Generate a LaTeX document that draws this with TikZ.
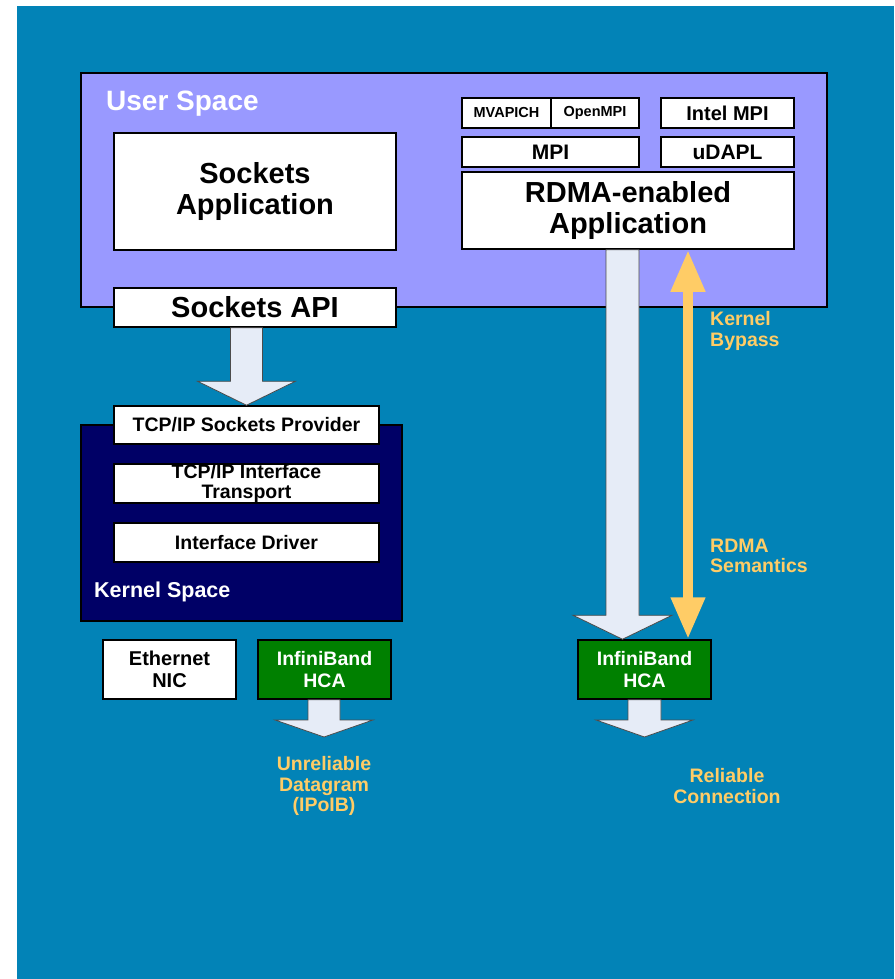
\documentclass[tikz,border=0pt]{standalone}
\usepackage{fontspec}
\setmainfont{Liberation Sans}
\usetikzlibrary{arrows.meta,calc}
\definecolor{bgblue}{HTML}{0283B7}
\definecolor{userlav}{HTML}{9999FF}
\definecolor{kernnavy}{HTML}{000066}
\definecolor{hcagreen}{HTML}{008000}
\definecolor{labelorange}{HTML}{FFCC66}
\definecolor{arrowfill}{HTML}{E6ECF7}
\newcommand\fs[2]{\fontsize{#1}{#2}\selectfont\bfseries}
\newcommand\blockarrow[5]{%
  \draw[blkarrow] let \p1=(#1), \p2=(#2) in
    (\x2-#3,\y1) -- (\x2+#3,\y1) -- (\x2+#3,\y2+#5) -- (\x2+#4,\y2+#5) -- (\x2,\y2)
    -- (\x2-#4,\y2+#5) -- (\x2-#3,\y2+#5) -- cycle;}
\begin{document}
\begin{tikzpicture}[x=1pt,y=-1pt,
  wbox/.style={draw=black, line width=1.5pt, fill=white, inner sep=0pt, align=center, text=black},
  gbox/.style={draw=black, line width=1.5pt, fill=hcagreen, inner sep=0pt, align=center, text=white},
  blkarrow/.style={draw=black!70, line width=0.8pt, fill=arrowfill},
  olabel/.style={text=labelorange, inner sep=0pt, font=\fs{19.5}{20.5}}
]
\useasboundingbox (0,0) rectangle (894,979);
\fill[white] (0,0) rectangle (894,979);
\fill[bgblue] (17,6) rectangle (894,979);

% User space
\node[draw=black, line width=2pt, fill=userlav, minimum width=746pt, minimum height=234pt, inner sep=0pt] (user) at (454,190) {};
\node[anchor=west, inner sep=0pt, text=white, font=\fs{28}{32}] (userlbl) at (106,104) {User Space};
\node[wbox, minimum width=282pt, minimum height=117pt, font=\fs{29}{31}] (sapp) at (255,191.5) {Sockets\\Application};
\node[wbox, minimum width=282pt, minimum height=39pt, font=\fs{29}{31}] (api) at (255,307.5) {Sockets API};
\node[wbox, minimum width=89pt, minimum height=30pt, font=\fs{14.5}{16}] (mva) at (506.5,113) {MVAPICH};
\node[wbox, minimum width=88pt, minimum height=30pt, font=\fs{14.5}{16}] (ompi) at (595,113) {OpenMPI};
\node[wbox, minimum width=133pt, minimum height=30pt, font=\fs{20}{22}] (intel) at (727.5,113) {Intel MPI};
\node[wbox, minimum width=177pt, minimum height=30pt, font=\fs{21}{22}] (mpi) at (550.5,152) {MPI};
\node[wbox, minimum width=133pt, minimum height=30pt, font=\fs{21}{22}] (udapl) at (727.5,152) {uDAPL};
\node[wbox, minimum width=332pt, minimum height=77pt, font=\fs{29}{31.5}] (rdma) at (628,210.5) {RDMA-enabled\\Application};

% Kernel space
\node[draw=black, line width=1.5pt, fill=kernnavy, minimum width=321pt, minimum height=196pt, inner sep=0pt] (kernel) at (241.5,523) {};
\node[anchor=west, inner sep=0pt, text=white, font=\fs{21.5}{24}] (kernlbl) at (94,591.5) {Kernel Space};
\node[wbox, minimum width=265pt, minimum height=38pt, font=\fs{19.5}{21}] (tcp) at (246.5,425) {TCP/IP Sockets Provider};
\node[wbox, minimum width=265pt, minimum height=39pt, font=\fs{19.5}{20}] (tcpi) at (246.5,483.5) {TCP/IP Interface\\Transport};
\node[wbox, minimum width=265pt, minimum height=39pt, font=\fs{19.5}{21}] (drv) at (246.5,542.5) {Interface Driver};

% Hardware
\node[wbox, minimum width=133pt, minimum height=59pt, font=\fs{20}{21.5}] (eth) at (169.5,669.5) {Ethernet\\NIC};
\node[gbox, minimum width=133pt, minimum height=59pt, font=\fs{19.5}{21.5}] (hcaL) at (324.5,669.5) {InfiniBand\\HCA};
\node[gbox, minimum width=133pt, minimum height=59pt, font=\fs{19.5}{21.5}] (hcaR) at (644.5,669.5) {InfiniBand\\HCA};

% block arrows
\blockarrow{api.south}{tcp.north}{16pt}{49pt}{24pt}
\coordinate (bigtop) at (622.5,0 |- rdma.south);
\coordinate (bigtip) at (622.5,0 |- hcaR.north);
\blockarrow{bigtop}{bigtip}{16.5pt}{49.5pt}{24pt}
\coordinate (ltip) at (324,737);
\blockarrow{hcaL.south}{ltip}{16pt}{49pt}{17pt}
\coordinate (rtip) at (644.5,737);
\blockarrow{hcaR.south}{rtip}{16.5pt}{48.5pt}{17pt}

% orange double arrow
\coordinate (otop) at (688,0 |- rdma.south);
\coordinate (obot) at (688,0 |- hcaR.north);
\draw[labelorange, line width=10pt, {Triangle[width=32pt,length=42pt]}-{Triangle[width=32pt,length=42pt]}] (otop) -- (obot);

% labels
\node[olabel, anchor=west, align=left] (kb) at (710,331) {Kernel\\Bypass};
\node[olabel, anchor=west, align=left] (rs) at (710,556) {RDMA\\Semantics};
\node[olabel, align=center] (ud) at (324,786) {Unreliable\\Datagram\\(IPoIB)};
\node[olabel, align=center] (rc) at (727,786) {Reliable\\Connection};
\end{tikzpicture}
\end{document}
